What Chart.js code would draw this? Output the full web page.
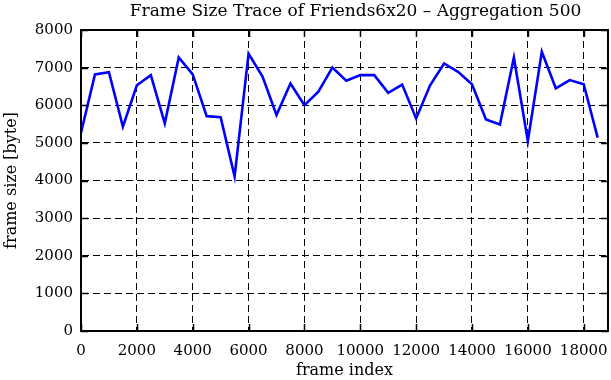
<!DOCTYPE html>
<html>
<head>
<meta charset="utf-8">
<script src="https://cdn.jsdelivr.net/npm/chart.js@4"></script>
<style>
html,body{margin:0;padding:0;background:#fff;}
#wrap{width:611px;height:380px;}
</style>
</head>
<body>
<div id="wrap"><canvas id="c" width="611" height="380"></canvas></div>
<script>
const titleText = "Frame Size Trace of Friends6x20 \u2013 Aggregation 500";
const xTitle = "frame index";
const yTitle = "frame size [byte]";
const frameIndex = [0,500,1000,1500,2000,2500,3000,3500,4000,4500,5000,5500,6000,6500,7000,7500,8000,8500,9000,9500,10000,10500,11000,11500,12000,12500,13000,13500,14000,14500,15000,15500,16000,16500,17000,17500,18000,18500];
const frameSize = [5270,6820,6880,5430,6530,6800,5520,7270,6820,5710,5680,4110,7370,6760,5740,6580,6000,6360,7000,6650,6800,6800,6330,6550,5650,6530,7110,6890,6560,5620,5490,7270,5050,7420,6450,6670,6560,5140];
const xTicks = [0,2000,4000,6000,8000,10000,12000,14000,16000,18000];
const yTicks = [0,1000,2000,3000,4000,5000,6000,7000,8000];
const xMin = 0, xMax = 18870;
const yMin = 0, yMax = 8000;

const FONT = "'DejaVu Serif', 'Liberation Serif', serif";

const boxPlugin = {
  id: 'box',
  afterDraw(chart) {
    const ctx = chart.ctx, a = chart.chartArea;
    const xs = chart.scales.x, ys = chart.scales.y;
    ctx.save();
    ctx.strokeStyle = '#000';
    ctx.lineWidth = 2;
    ctx.setLineDash([]);
    ctx.strokeRect(a.left, a.top, a.right - a.left, a.bottom - a.top);
    ctx.lineWidth = 1.5;
    const L = 7;
    ctx.beginPath();
    xs.ticks.forEach(t => {
      const px = Math.round(xs.getPixelForValue(t.value)) + 0.5;
      ctx.moveTo(px, a.bottom); ctx.lineTo(px, a.bottom - L);
      ctx.moveTo(px, a.top); ctx.lineTo(px, a.top + L);
    });
    ys.ticks.forEach(t => {
      const py = Math.round(ys.getPixelForValue(t.value)) + 0.5;
      ctx.moveTo(a.left, py); ctx.lineTo(a.left + L, py);
      ctx.moveTo(a.right, py); ctx.lineTo(a.right - L, py);
    });
    ctx.stroke();
    // title, centred like the reference
    ctx.fillStyle = '#000';
    ctx.font = "17px " + FONT;
    ctx.textAlign = 'center';
    ctx.textBaseline = 'middle';
    ctx.fillText(titleText, (a.left + a.right) / 2 + 11, 12);
    ctx.restore();
  }
};

new Chart(document.getElementById('c'), {
  type: 'line',
  data: {
    datasets: [{
      data: frameIndex.map((x, i) => ({x: x, y: frameSize[i]})),
      borderColor: '#0000ff',
      borderWidth: 2.6,
      pointRadius: 0,
      tension: 0,
      fill: false
    }]
  },
  options: {
    responsive: false,
    animation: false,
    devicePixelRatio: 1,
    layout: { padding: { left: 0, right: 3, top: 30, bottom: 0 } },
    plugins: {
      legend: { display: false },
      tooltip: { enabled: false },
      title: { display: false }
    },
    scales: {
      x: {
        type: 'linear',
        min: xMin, max: xMax,
        afterBuildTicks(s) { s.ticks = xTicks.map(v => ({value: v})); },
        afterFit(s) { s.height = 49; s.paddingLeft = 0; s.paddingRight = 0; },
        ticks: { color: '#000', font: { family: FONT, size: 15 }, maxRotation: 0, autoSkip: false, padding: 11,
                 callback: v => String(v) },
        grid: { color: '#000', lineWidth: 1, drawTicks: false },
        border: { display: true, color: '#000', width: 2, dash: [7, 4] },
        title: { display: true, text: xTitle, color: '#000', font: { family: FONT, size: 16 }, padding: { top: 0, bottom: 0 } }
      },
      y: {
        min: yMin, max: yMax,
        afterBuildTicks(s) { s.ticks = yTicks.map(v => ({value: v})); },
        afterFit(s) { s.width = 81; s.paddingTop = 0; s.paddingBottom = 0; },
        ticks: { color: '#000', font: { family: FONT, size: 15 }, padding: 8, callback: v => String(v) },
        grid: { color: '#000', lineWidth: 1, drawTicks: false },
        border: { display: true, color: '#000', width: 2, dash: [7, 4] },
        title: { display: true, text: yTitle, color: '#000', font: { family: FONT, size: 16 }, padding: { top: 2, bottom: 0 } }
      }
    }
  },
  plugins: [boxPlugin]
});
</script>
</body>
</html>
